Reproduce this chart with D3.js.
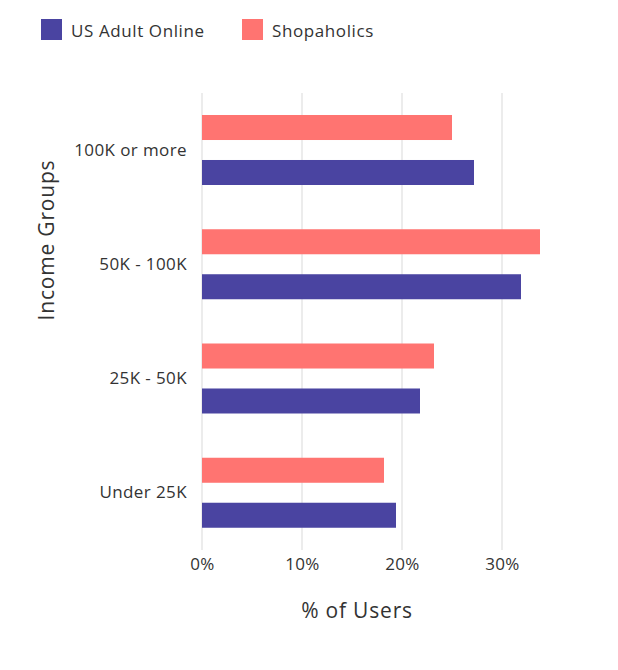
<!DOCTYPE html>
<html><head><meta charset="utf-8">
<script src="https://cdn.jsdelivr.net/npm/d3@7/dist/d3.min.js"></script>
<style>body{margin:0;background:#fff;} text{font-family:"Open Sans","Lato",sans-serif;fill:#333;}</style>
</head><body><svg id="c" width="618" height="670"></svg>
<script>
const categories = ["100K or more", "50K - 100K", "25K - 50K", "Under 25K"];
const seriesNames = ["Shopaholics", "US Adult Online"];
const legendOrder = ["US Adult Online", "Shopaholics"];
const shopaholics = [25.0, 33.8, 23.2, 18.2];
const usAdultOnline = [27.2, 31.9, 21.8, 19.4];
const xTicks = [0, 10, 20, 30];
const colors = {"US Adult Online": "#4a44a1", "Shopaholics": "#ff7471"};

const svg = d3.select("#c");
const x = d3.scaleLinear().domain([0, 34.8]).range([202, 550]);
const y0 = d3.scaleBand().domain(categories).range([93, 550]);
const y1 = d3.scaleBand().domain(seriesNames).range([22, 92]).paddingInner(0.444);
const valuesBy = {"Shopaholics": shopaholics, "US Adult Online": usAdultOnline};

// gridlines
svg.append("g").selectAll("line").data(xTicks).join("line")
  .attr("x1", d => x(d)).attr("x2", d => x(d))
  .attr("y1", 93).attr("y2", 550)
  .attr("stroke", "#e6e6e6").attr("stroke-width", 1.5);

// bars
const g = svg.append("g");
categories.forEach((c, i) => {
  seriesNames.forEach(s => {
    g.append("rect")
      .attr("x", x(0))
      .attr("y", y0(c) + y1(s))
      .attr("width", x(valuesBy[s][i]) - x(0))
      .attr("height", y1.bandwidth())
      .attr("fill", colors[s]);
  });
});

// y axis labels
const yAxis = d3.axisLeft(y0).tickSize(0).tickPadding(15);
const yg = svg.append("g").attr("transform", "translate(202,0)").call(yAxis);
yg.select(".domain").remove();
yg.selectAll("text").style("font-size", "17px").style("letter-spacing", "0.4px").attr("fill", "#333");

// x axis labels
const xAxis = d3.axisBottom(x).tickValues(xTicks).tickFormat(d => d + "%").tickSize(0).tickPadding(8);
const xg = svg.append("g").attr("transform", "translate(0,550)").call(xAxis);
xg.select(".domain").remove();
xg.selectAll("text").style("font-size", "17px").style("letter-spacing", "0.3px").attr("fill", "#333");

// axis titles
svg.append("text").attr("x", 357).attr("y", 618).attr("text-anchor", "middle")
  .style("font-size", "21px").style("letter-spacing", "0.8px").text("% of Users");
svg.append("text").attr("transform", "translate(54,240) rotate(-90)").attr("text-anchor", "middle")
  .style("font-size", "21px").style("letter-spacing", "0.8px").text("Income Groups");

// legend
const legX = [41, 242];
legendOrder.forEach((s, i) => {
  svg.append("rect").attr("x", legX[i]).attr("y", 19).attr("width", 21).attr("height", 21).attr("fill", colors[s]);
  svg.append("text").attr("x", legX[i] + 30).attr("y", 36.5).style("font-size", "17px").style("letter-spacing", "0.6px").text(s);
});
</script></body></html>
